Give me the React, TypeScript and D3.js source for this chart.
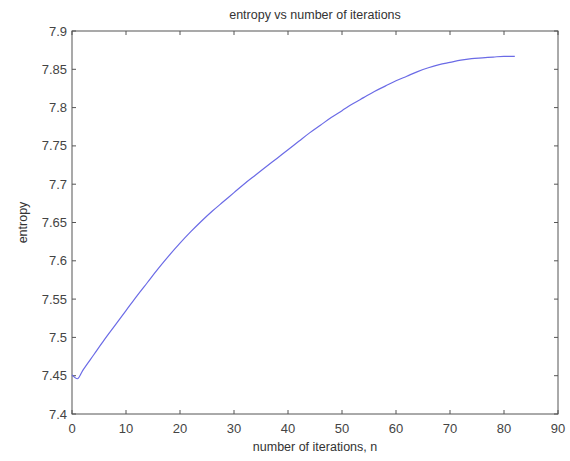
import React, { useEffect, useRef } from 'react';
import * as d3 from 'd3';

// iterations and entropy values
const iterations = [0, 1, 2, 4, 6, 8, 10, 12, 14, 16, 18, 20, 22, 24, 26, 28, 30, 32, 34, 36, 38, 40,
  42, 44, 46, 48, 50, 52, 54, 56, 58, 60, 62, 64, 66, 68, 70, 72, 74, 76, 78, 80, 82];
const entropy = [7.451, 7.446, 7.457, 7.477, 7.497, 7.516, 7.535, 7.554, 7.572, 7.590, 7.607, 7.623,
  7.638, 7.652, 7.665, 7.677, 7.689, 7.701, 7.712, 7.723, 7.734, 7.745, 7.756, 7.767, 7.777, 7.787,
  7.796, 7.805, 7.813, 7.821, 7.828, 7.835, 7.841, 7.847, 7.852, 7.856, 7.859, 7.862, 7.864, 7.865,
  7.866, 7.867, 7.867];

const xTicks = [0, 10, 20, 30, 40, 50, 60, 70, 80, 90];
const yTicks = [7.4, 7.45, 7.5, 7.55, 7.6, 7.65, 7.7, 7.75, 7.8, 7.85, 7.9];

const App = () => {
  const ref = useRef<SVGSVGElement>(null);

  useEffect(() => {
    const width = 570;
    const height = 461;
    const margin = { top: 31, right: 12, bottom: 47, left: 72 };

    const svg = d3.select(ref.current);
    svg.selectAll('*').remove();

    const x = d3.scaleLinear().domain([0, 90]).range([margin.left, width - margin.right]);
    const y = d3.scaleLinear().domain([7.4, 7.9]).range([height - margin.bottom, margin.top]);

    const font = 'Liberation Sans, Arial, sans-serif';
    const axisColor = '#555';
    const tickLen = 4;

    // white background
    svg.append('rect').attr('width', width).attr('height', height).attr('fill', '#fff');

    // box
    svg.append('rect')
      .attr('x', x(0)).attr('y', y(7.9))
      .attr('width', x(90) - x(0)).attr('height', y(7.4) - y(7.9))
      .attr('fill', 'none').attr('stroke', axisColor).attr('stroke-width', 1);

    // x ticks (bottom and top, pointing inward)
    const gx = svg.append('g');
    xTicks.forEach(t => {
      gx.append('line').attr('x1', x(t)).attr('x2', x(t))
        .attr('y1', y(7.4)).attr('y2', y(7.4) - tickLen).attr('stroke', axisColor);
      gx.append('line').attr('x1', x(t)).attr('x2', x(t))
        .attr('y1', y(7.9)).attr('y2', y(7.9) + tickLen).attr('stroke', axisColor);
      gx.append('text').attr('x', x(t)).attr('y', y(7.4) + 19)
        .attr('text-anchor', 'middle').attr('font-family', font).attr('font-size', 13)
        .attr('fill', '#444').text(t);
    });

    // y ticks (left and right, pointing inward)
    const gy = svg.append('g');
    yTicks.forEach(t => {
      gy.append('line').attr('x1', x(0)).attr('x2', x(0) + tickLen)
        .attr('y1', y(t)).attr('y2', y(t)).attr('stroke', axisColor);
      gy.append('line').attr('x1', x(90)).attr('x2', x(90) - tickLen)
        .attr('y1', y(t)).attr('y2', y(t)).attr('stroke', axisColor);
      gy.append('text').attr('x', x(0) - 5).attr('y', y(t) + 4.5)
        .attr('text-anchor', 'end').attr('font-family', font).attr('font-size', 13)
        .attr('fill', '#444').text(String(+t.toFixed(2)));
    });

    // entropy curve
    const points = iterations.map((n, i) => [n, entropy[i]] as [number, number]);
    const line = d3.line<[number, number]>().x(d => x(d[0])).y(d => y(d[1])).curve(d3.curveMonotoneX);
    svg.append('path').datum(points)
      .attr('d', line)
      .attr('fill', 'none').attr('stroke', '#6b6be6').attr('stroke-width', 1.2);

    // title and axis labels
    svg.append('text').attr('x', (x(0) + x(90)) / 2).attr('y', 19)
      .attr('text-anchor', 'middle').attr('font-family', font).attr('font-size', 12.5)
      .attr('fill', '#333').text('entropy vs number of iterations');

    svg.append('text').attr('x', (x(0) + x(90)) / 2).attr('y', 451)
      .attr('text-anchor', 'middle').attr('font-family', font).attr('font-size', 12.5)
      .attr('fill', '#333').text('number of iterations, n');

    svg.append('text')
      .attr('transform', `translate(27,${(y(7.4) + y(7.9)) / 2}) rotate(-90)`)
      .attr('text-anchor', 'middle').attr('font-family', font).attr('font-size', 12.5)
      .attr('fill', '#333').text('entropy');
  }, []);

  return (
    <svg ref={ref} width={570} height={461} style={{ position: 'absolute', left: 0, top: 0 }}></svg>
  );
};

export default App;
